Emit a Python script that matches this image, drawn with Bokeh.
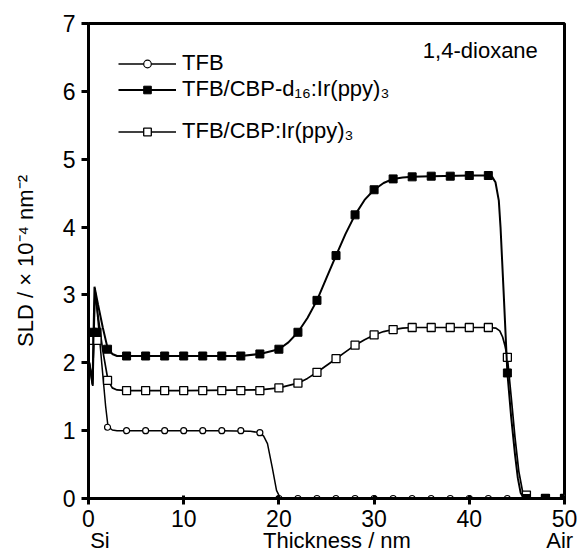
from bokeh.plotting import figure
from bokeh.models import FixedTicker, Legend, LegendItem, Label, Range1d, LinearAxis
from bokeh.embed import file_html
from bokeh.resources import INLINE

# ---------------- data ----------------
# TFB (open circles)
tfb_line_x = [0, 0.45, 0.68, 1.0, 1.4, 1.8, 2.05, 2.5, 3.0, 8.0, 14.0, 17.0, 18.0, 18.4, 18.8, 19.3, 19.75, 20.1, 20.6, 50.0]
tfb_line_y = [2.07, 1.75, 3.10, 2.62, 1.98, 1.36, 1.06, 1.01, 1.00, 1.00, 1.00, 0.99, 0.97, 0.92, 0.81, 0.46, 0.12, 0.02, 0.0, 0.0]
tfb_mark_x = [2, 4, 6, 8, 10, 12, 14, 16, 18, 20, 22, 24, 26, 28, 30, 32, 34, 36, 38, 40, 42, 44, 46, 48, 50]
tfb_mark_y = [1.05, 1.0, 1.0, 1.0, 1.0, 1.0, 1.0, 1.0, 0.97, 0, 0, 0, 0, 0, 0, 0, 0, 0, 0, 0, 0, 0, 0, 0, 0]

# TFB/CBP-d16:Ir(ppy)3 (filled squares)
d16_line_x = [0, 0.42, 0.63, 1.0, 1.5, 2.0, 2.5, 3.0, 4, 10, 16, 18, 20, 21, 22, 23, 24, 25, 26, 27, 28, 29, 30, 31, 32, 33, 34, 36, 40, 42, 42.4, 42.75, 43.1, 43.28, 43.45, 43.6, 44.0, 44.4, 44.8, 45.1, 45.4, 45.7, 46.0, 50]
d16_line_y = [2.07, 1.68, 3.12, 2.86, 2.52, 2.22, 2.13, 2.10, 2.10, 2.10, 2.10, 2.13, 2.20, 2.30, 2.45, 2.66, 2.92, 3.25, 3.58, 3.90, 4.18, 4.40, 4.55, 4.65, 4.71, 4.73, 4.74, 4.75, 4.76, 4.76, 4.74, 4.66, 4.39, 4.00, 3.50, 3.06, 1.85, 1.20, 0.65, 0.30, 0.08, 0.01, 0.0, 0.0]
d16_mark_x = [0.4, 0.9, 2, 4, 6, 8, 10, 12, 14, 16, 18, 20, 22, 24, 26, 28, 30, 32, 34, 36, 38, 40, 42, 44, 46, 48, 50]
d16_mark_y = [2.45, 2.45, 2.2, 2.1, 2.1, 2.1, 2.1, 2.1, 2.1, 2.1, 2.13, 2.2, 2.45, 2.92, 3.58, 4.18, 4.55, 4.71, 4.74, 4.75, 4.75, 4.76, 4.76, 1.85, 0, 0, 0]

# TFB/CBP:Ir(ppy)3 (open squares)
h_line_x = [0, 0.45, 0.68, 1.0, 1.5, 2.05, 2.5, 3.0, 4, 10, 18, 20, 22, 23, 24, 25, 26, 27, 28, 29, 30, 31, 32, 33, 34, 38, 42, 42.8, 43.2, 43.5, 43.75, 44.0, 44.4, 44.8, 45.2, 45.6, 45.9, 46.2, 50]
h_line_y = [2.07, 1.66, 3.06, 2.70, 2.18, 1.74, 1.63, 1.60, 1.59, 1.59, 1.60, 1.63, 1.70, 1.77, 1.86, 1.96, 2.06, 2.16, 2.26, 2.34, 2.41, 2.46, 2.49, 2.51, 2.52, 2.52, 2.52, 2.51, 2.47, 2.38, 2.25, 2.08, 1.50, 0.90, 0.40, 0.10, 0.03, 0.0, 0.0]
h_mark_x = [0.4, 0.9, 2, 4, 6, 8, 10, 12, 14, 16, 18, 20, 22, 24, 26, 28, 30, 32, 34, 36, 38, 40, 42, 44, 46, 48, 50]
h_mark_y = [2.33, 2.33, 1.74, 1.59, 1.59, 1.59, 1.59, 1.59, 1.59, 1.59, 1.59, 1.63, 1.70, 1.86, 2.06, 2.26, 2.41, 2.49, 2.52, 2.52, 2.52, 2.52, 2.52, 2.08, 0.05, 0, 0]

series_labels = ["TFB", "TFB/CBP-d\u2081\u2086:Ir(ppy)\u2083", "TFB/CBP:Ir(ppy)\u2083"]
x_ticks = [0, 10, 20, 30, 40, 50]
y_ticks = [0, 1, 2, 3, 4, 5, 6, 7]
side_ticks = [1.2, 26.1, 49.5]
side_labels = ["Si", "Thickness / nm", "Air"]

FONT = "Liberation Sans"

p = figure(width=577, height=555, x_range=Range1d(0, 50), y_range=Range1d(0, 7),
           output_backend="svg", toolbar_location=None,
           min_border_left=88, min_border_right=13, min_border_top=23, min_border_bottom=57)
p.background_fill_color = "white"
p.border_fill_color = "white"
p.xgrid.visible = False
p.ygrid.visible = False
p.outline_line_color = "black"
p.outline_line_width = 3
p.outline_line_alpha = 1.0

for ax in (p.xaxis[0], p.yaxis[0]):
    ax.axis_line_width = 3
    ax.major_tick_line_width = 3
    ax.minor_tick_line_color = None
    ax.major_label_text_font = FONT
    ax.major_label_text_font_size = "23px"
    ax.major_label_text_color = "black"
    ax.axis_label_text_font = FONT
    ax.axis_label_text_font_style = "normal"
    ax.axis_label_text_color = "black"

p.xaxis.ticker = FixedTicker(ticks=x_ticks)
p.yaxis.ticker = FixedTicker(ticks=y_ticks)
p.xaxis.major_tick_in = 3
p.xaxis.major_tick_out = 6
p.xaxis.major_label_standoff = 5
p.yaxis.major_tick_in = 0
p.yaxis.major_tick_out = 7
p.yaxis.major_label_standoff = 6
p.yaxis.axis_label = "SLD / \u00d7 10\u207b\u2074 nm\u207b\u00b2"
p.yaxis.axis_label_text_font_size = "22px"
p.yaxis.axis_label_standoff = 22

# second bottom axis carrying "Si", "Thickness / nm", "Air"
ax2 = LinearAxis(ticker=FixedTicker(ticks=side_ticks),
                 major_label_overrides={t: s for t, s in zip(side_ticks, side_labels)},
                 axis_line_color=None, major_tick_line_color=None, minor_tick_line_color=None,
                 major_tick_in=0, major_tick_out=0, major_label_standoff=-2,
                 major_label_text_font=FONT, major_label_text_font_size="22px",
                 major_label_text_color="black")
p.add_layout(ax2, "below")

# series
r_tfb_l = p.line(tfb_line_x, tfb_line_y, line_color="black", line_width=1.5)
r_tfb_m = p.scatter(tfb_mark_x, tfb_mark_y, marker="circle", size=6, fill_color="white",
                    line_color="black", line_width=1.2)
r_h_l = p.line(h_line_x, h_line_y, line_color="black", line_width=1.7)
r_h_m = p.scatter(h_mark_x, h_mark_y, marker="square", size=8, fill_color="white",
                  line_color="black", line_width=1.3)
r_d_l = p.line(d16_line_x, d16_line_y, line_color="black", line_width=2)
r_d_m = p.scatter(d16_mark_x, d16_mark_y, marker="square", size=8, fill_color="black",
                  line_color="black", line_width=1)

# legends (one per row so that row positions follow the reference)
rows = [([r_tfb_l, r_tfb_m], 422), ([r_d_l, r_d_m], 396), ([r_h_l, r_h_m], 354)]
for (rends, vy), lab in zip(rows, series_labels):
    lg = Legend(items=[LegendItem(label=lab, renderers=rends)], location=(30, vy),
                padding=0, margin=0, glyph_width=58, glyph_height=19, label_height=19,
                label_standoff=6, label_text_font=FONT, label_text_font_size="22px",
                label_text_color="black", border_line_color=None, background_fill_alpha=0)
    p.add_layout(lg)

p.add_layout(Label(x=47.2, y=6.6, text="1,4-dioxane", text_align="right", text_baseline="middle",
                   text_font=FONT, text_font_size="22px", text_color="black"))

open("out.html", "w").write(file_html(p, INLINE))
